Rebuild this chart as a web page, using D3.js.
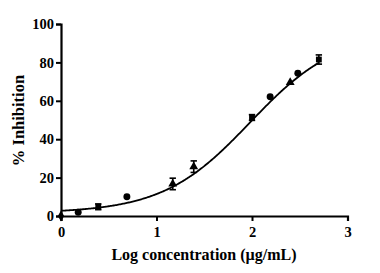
<!DOCTYPE html>
<html>
<head>
<meta charset="utf-8">
<script src="https://cdn.jsdelivr.net/npm/d3@7"></script>
<style>
  body { margin: 0; background: #fff; }
  text { font-family: "Liberation Serif", "Times New Roman", serif; font-weight: bold; }
</style>
</head>
<body>
<div id="main"></div>
<script>
const ctx = {
    width: 380,
    height: 273
};

// measured points (log conc, % inhibition)
const logConc   = [0, 0.18, 0.39, 0.69, 1.17, 1.39, 2.0, 2.19, 2.40, 2.48, 2.70];
const inhibition = [0, 1.9, 4.8, 10, 16.7, 25.7, 51.3, 62.1, 69.6, 74.3, 81.5];
const errBar    = [0, 0, 1.5, 0, 3, 3, 1.5, 0, 0, 0, 2.4];
const markShape = ["diamond", "circle", "square", "circle", "triangle", "triangle", "square", "circle", "triangle", "circle", "square"];

// fitted 4PL curve parameters
const fitBottom = 1.5;
const fitTop = 96;
const fitLogEC50 = 1.98;
const fitHill = 0.95;

const xTicks = [0, 1, 2, 3];
const yTicks = [0, 20, 40, 60, 80, 100];

function createViz() {
    let svg = d3.select("#main").append("svg")
        .attr("width", ctx.width)
        .attr("height", ctx.height);

    let x = d3.scaleLinear().domain([0, 3]).range([61, 347.5]);
    let y = d3.scaleLinear().domain([0, 100]).range([216, 24]);

    // axes
    let xAxis = svg.append("g").attr("transform", "translate(0,216)")
        .call(d3.axisBottom(x).tickValues(xTicks).tickFormat(d3.format("d")).tickSizeOuter(0).tickSize(5));
    let yAxis = svg.append("g").attr("transform", "translate(61,0)")
        .call(d3.axisLeft(y).tickValues(yTicks).tickSizeOuter(0).tickSize(5));

    [xAxis, yAxis].forEach(a => {
        a.select(".domain").attr("stroke", "#000").attr("stroke-width", 2.2);
        a.selectAll(".tick line").attr("stroke", "#000").attr("stroke-width", 2);
        a.selectAll(".tick text").attr("fill", "#000")
            .style("font-size", "14.5px").style("font-family", "Liberation Serif").style("font-weight", "bold");
    });
    xAxis.selectAll(".tick text").attr("dy", "0.9em");
    yAxis.selectAll(".tick text").attr("x", -7);

    // fit curve
    let curveX = d3.range(0, 2.7001, 0.01);
    let line = d3.line()
        .x(d => x(d))
        .y(d => y(fitBottom + (fitTop - fitBottom) / (1 + Math.pow(10, (fitLogEC50 - d) * fitHill))));
    svg.append("path").datum(curveX)
        .attr("d", line)
        .attr("fill", "none")
        .attr("stroke", "#000")
        .attr("stroke-width", 1.8);

    // error bars
    let pts = logConc.map((v, i) => ({ x: v, y: inhibition[i], e: errBar[i], s: markShape[i] }));
    let eb = svg.append("g").selectAll("g").data(pts.filter(d => d.e > 0)).enter().append("g");
    eb.append("line")
        .attr("x1", d => x(d.x)).attr("x2", d => x(d.x))
        .attr("y1", d => y(d.y - d.e)).attr("y2", d => y(d.y + d.e))
        .attr("stroke", "#000").attr("stroke-width", 1.6);
    [-1, 1].forEach(sgn => {
        eb.append("line")
            .attr("x1", d => x(d.x) - 3.2).attr("x2", d => x(d.x) + 3.2)
            .attr("y1", d => y(d.y + sgn * d.e)).attr("y2", d => y(d.y + sgn * d.e))
            .attr("stroke", "#000").attr("stroke-width", 1.6);
    });

    // markers
    let symbols = { circle: d3.symbolCircle, square: d3.symbolSquare, triangle: d3.symbolTriangle, diamond: d3.symbolDiamond };
    svg.append("g").selectAll("path").data(pts).enter().append("path")
        .attr("transform", d => "translate(" + x(d.x) + "," + y(d.y) + ")")
        .attr("d", d => d3.symbol().type(symbols[d.s]).size(d.s == "circle" ? 38 : 34)())
        .attr("fill", "#000");

    // axis titles
    svg.append("text")
        .attr("x", 204).attr("y", 260)
        .attr("text-anchor", "middle")
        .style("font-size", "16px")
        .text("Log concentration (µg/mL)");
    svg.append("text")
        .attr("transform", "translate(24,120.5) rotate(-90)")
        .attr("text-anchor", "middle")
        .style("font-size", "16.5px")
        .text("% Inhibition");
}

createViz();
</script>
</body>
</html>
